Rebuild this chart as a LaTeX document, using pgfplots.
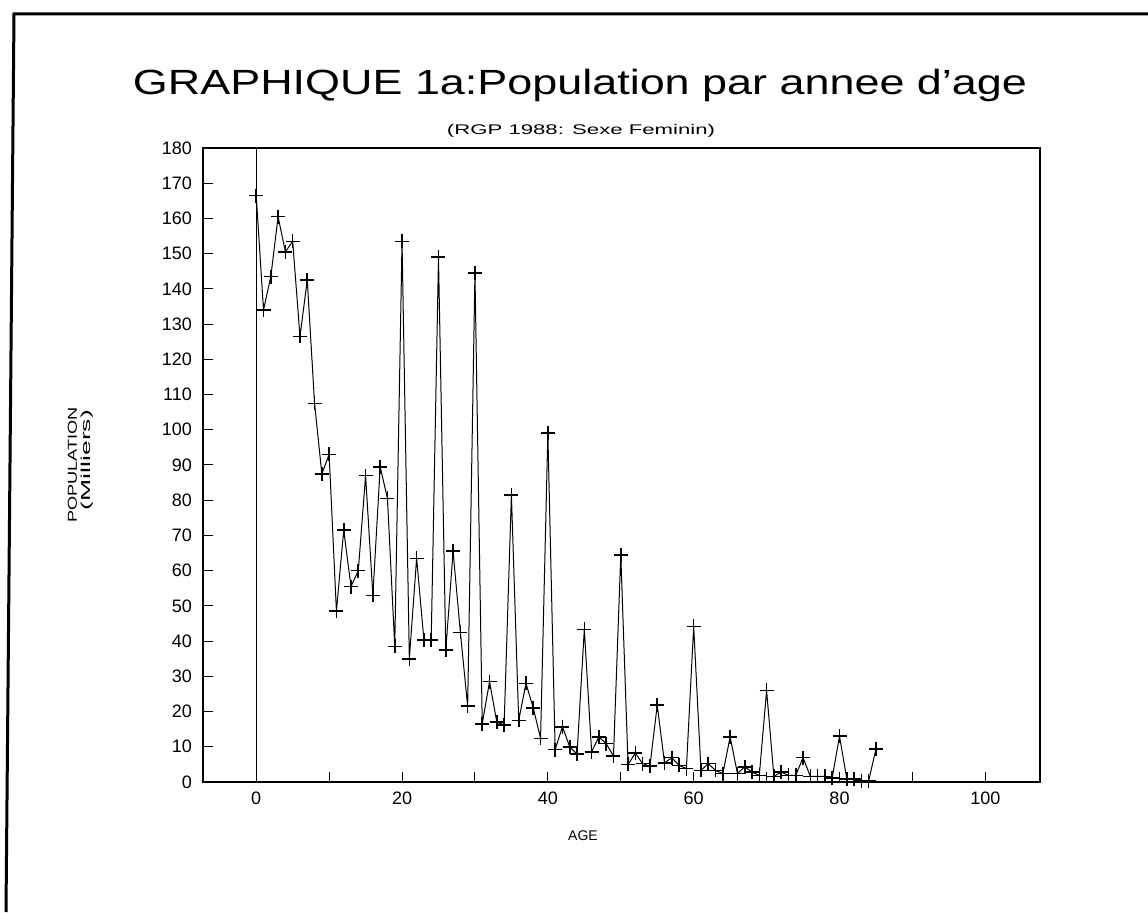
\documentclass[border=0pt]{standalone}
\usepackage{fontspec}
\setmainfont{Liberation Sans}
\usepackage{pgfplots}
\usepackage{pgfplotstable}
\pgfplotsset{compat=1.18}
\pgfplotstableread{
age pop
0 166.5
1 134
2 143.5
3 160.5
4 150.5
5 153.5
6 126.5
7 142.5
8 107.5
9 87.5
10 93
11 48.5
12 71.5
13 55.5
14 60
15 87
16 53
17 89.5
18 80.5
19 38.5
20 153.5
21 35
22 63.5
23 40.3
24 40.3
25 149
26 37.5
27 65.5
28 42.5
29 21.5
30 144.5
31 16.5
32 28.5
33 17
34 16.2
35 81.5
36 17.5
37 28
38 21
39 12.4
40 99
41 9.2
42 15.7
43 10
44 7.9
45 43.3
46 8.6
47 12.8
48 10.9
49 7.4
50 64.5
51 5
52 8.2
53 5.2
54 4.5
55 21.8
56 5.4
57 6.9
58 4.7
59 3.8
60 44.2
61 3.3
62 5.2
63 3.3
64 2.4
65 12.8
66 2.4
67 4.3
68 2.8
69 1.9
70 26
71 1.6
72 2.8
73 1.9
74 1.9
75 6.9
76 1.6
77 1.6
78 1.6
79 1.2
80 13
81 0.9
82 0.9
83 0.4
84 0.3
85 9.4
}\popdata
\begin{document}
\begin{tikzpicture}[x=1pt,y=1pt]
\path[use as bounding box] (0,0) rectangle (574,456);
\draw[line width=1.5pt] (3,0) -- (7,449) -- (574,449);
% title
\node[anchor=base, inner sep=0pt] at (290,408.5) {\resizebox{447pt}{\height}{\fontsize{17.5}{20}\selectfont GRAPHIQUE 1a:Population par annee d'age}};
\node[anchor=base, inner sep=0pt] at (290.5,388.5) {\resizebox{134pt}{\height}{\fontsize{7}{8}\selectfont (RGP 1988: Sexe Feminin)}};
\node[anchor=base, inner sep=0pt] at (291.5,35.5) {\fontsize{7}{8}\selectfont AGE};
\node[anchor=base, inner sep=0pt, rotate=90] at (38.5,223.5) {\resizebox{58pt}{\height}{\fontsize{6.5}{8}\selectfont POPULATION}};
\node[anchor=base, inner sep=0pt, rotate=90] at (45.5,226) {\resizebox{50pt}{\height}{\fontsize{6.5}{8}\selectfont (Milliers)}};
\begin{axis}[
  at={(101.5pt,65pt)}, anchor=south west,
  scale only axis, width=418.5pt, height=317pt,
  xmin=-7.3, xmax=107.5, ymin=0, ymax=180,
  xtick={0,20,...,100}, minor xtick={10,30,...,90},
  ytick={0,10,...,180},
  xtick pos=bottom, ytick pos=left,
  tick align=inside,
  major tick length=5pt, minor tick length=5pt,
  tick style={black, line width=0.5pt},
  axis line style={black, line width=0.6pt},
  /pgf/number format/assume math mode=true,
  ticklabel style={font=\fontsize{9}{10}\selectfont},
  yticklabel style={xshift=-2pt},
  xticklabel style={yshift=-1.5pt},
]
\addplot[black, line width=0.6pt] coordinates {(0,0) (0,180)};
\addplot[black, line width=0.5pt, mark=+, mark size=3.5pt, mark options={line width=0.8pt}] table[x=age, y=pop] {\popdata};
\end{axis}
\end{tikzpicture}
\end{document}
